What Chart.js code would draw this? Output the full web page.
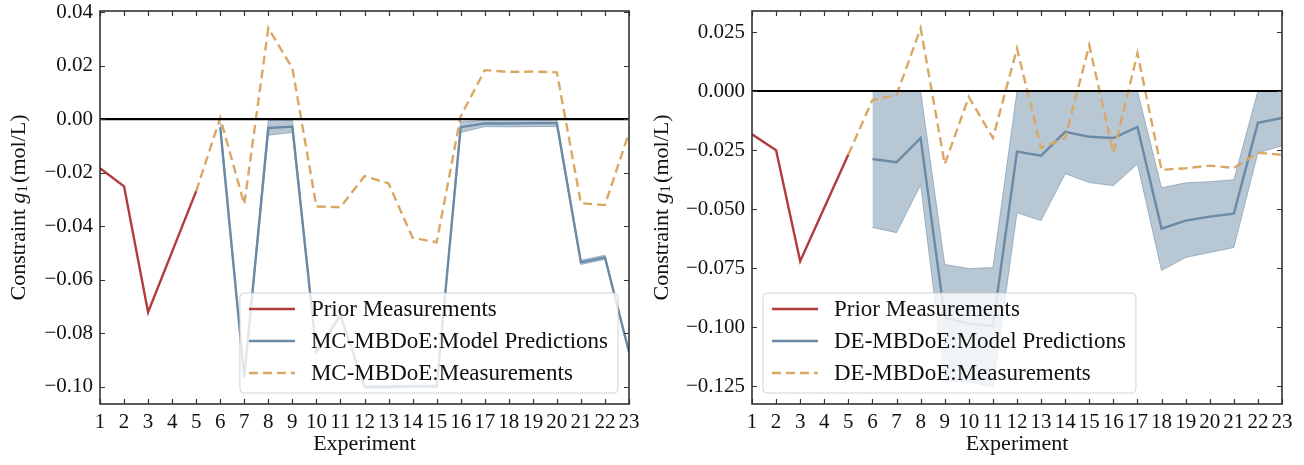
<!DOCTYPE html>
<html>
<head>
<meta charset="utf-8">
<title>Constraint g1: MC-MBDoE vs DE-MBDoE</title>
<script src="https://cdn.jsdelivr.net/npm/chart.js@4"></script>
<style>
  body { margin: 0; background: #fff; }
  .wrap { display: flex; width: 1304px; height: 465px; }
  canvas { display: block; }
</style>
</head>
<body>
<div class="wrap">
  <canvas id="mcChart" width="652" height="465"></canvas>
  <canvas id="deChart" width="652" height="465"></canvas>
</div>
<script>
// --- Data ---
const expTicks = [1, 2, 3, 4, 5, 6, 7, 8, 9, 10, 11, 12, 13, 14, 15, 16, 17, 18, 19, 20, 21, 22, 23];
const priorExp = [1, 2, 3, 4, 5];
const priorG1 = [-0.0183, -0.0251, -0.0721, -0.0495, -0.0269];
const measExp = [5, 6, 7, 8, 9, 10, 11, 12, 13, 14, 15, 16, 17, 18, 19, 20, 21, 22, 23];
const designExp = [6, 7, 8, 9, 10, 11, 12, 13, 14, 15, 16, 17, 18, 19, 20, 21, 22, 23];
const zeroX = [1, 23];
const zeroY = [0, 0];

// MC-MBDoE (left)
const mcMeas = [-0.0269, 0.0005, -0.0318, 0.0340, 0.0190, -0.0326, -0.0329, -0.0213, -0.0240, -0.0443,
                -0.0460, 0.0010, 0.0183, 0.0176, 0.0178, 0.0175, -0.0314, -0.0321, -0.0050];
const mcModel = [-0.0030, -0.0964, -0.0033, -0.0028, -0.0870, -0.0733, -0.1000, -0.1000, -0.0998,
                 -0.0998, -0.0030, -0.0016, -0.0016, -0.0015, -0.0015, -0.0535, -0.0516, -0.0870];
const mcUpper = [-0.0010, -0.0955, -0.0004, -0.0004, -0.0862, -0.0725, -0.0995, -0.0995, -0.0993,
                 -0.0993, -0.0010, -0.0004, -0.0003, -0.0003, -0.0003, -0.0527, -0.0508, -0.0862];
const mcLower = [-0.0050, -0.0973, -0.0060, -0.0050, -0.0878, -0.0741, -0.1005, -0.1005, -0.1003,
                 -0.1003, -0.0050, -0.0028, -0.0029, -0.0028, -0.0028, -0.0543, -0.0524, -0.0878];
const mcYTicks = [-0.10, -0.08, -0.06, -0.04, -0.02, 0.00, 0.02, 0.04];

// DE-MBDoE (right)
const deMeas = [-0.0269, -0.0038, -0.0017, 0.0266, -0.0310, -0.0025, -0.0199, 0.0180, -0.0241, -0.0199,
                0.0194, -0.0262, 0.0160, -0.0334, -0.0327, -0.0316, -0.0326, -0.0262, -0.0270];
const deModel = [-0.0288, -0.0302, -0.0199, -0.0960, -0.0985, -0.0995, -0.0257, -0.0274, -0.0173,
                 -0.0194, -0.0199, -0.0152, -0.0583, -0.0549, -0.0532, -0.0520, -0.0135, -0.0114];
const deUpper = [0, 0, 0, -0.0735, -0.0752, -0.0748, 0, 0, 0, 0, 0, 0, -0.0410, -0.0389, -0.0384, -0.0376, 0, 0];
const deLower = [-0.0578, -0.0600, -0.0397, -0.1230, -0.1233, -0.1252, -0.0516, -0.0549, -0.0350,
                 -0.0388, -0.0401, -0.0309, -0.0760, -0.0705, -0.0684, -0.0663, -0.0262, -0.0232];
const deYTicks = [-0.125, -0.100, -0.075, -0.050, -0.025, 0.000, 0.025];

// --- Styles ---
const serif = '"Liberation Serif", "Times New Roman", serif';
const red = '#b23b3b';
const blue = '#6a8aa5';
const orange = '#daa865';
const bandFill = 'rgba(106,138,165,0.48)';
const bandEdge = 'rgba(106,138,165,0.55)';
Chart.defaults.color = '#111';

const pts = (xs, ys) => xs.map((x, i) => ({ x: x, y: ys[i] }));
const fmt = (v, dec) => (Math.abs(v) < 1e-9 ? 0 : v) < 0 ? '\u2212' + Math.abs(v).toFixed(dec) : Math.abs(v).toFixed(dec);

// spines + inward ticks on all four sides
const framePlugin = {
  id: 'frame',
  afterDatasetsDraw(chart) {
    const ctx = chart.ctx, a = chart.chartArea;
    const xs = chart.scales.x, ys = chart.scales.y;
    ctx.save();
    ctx.strokeStyle = '#333';
    ctx.lineWidth = 1.2;
    ctx.beginPath();
    xs.ticks.forEach(t => {
      const px = Math.round(xs.getPixelForValue(t.value)) + 0.5;
      ctx.moveTo(px, a.bottom); ctx.lineTo(px, a.bottom - 5);
      ctx.moveTo(px, a.top); ctx.lineTo(px, a.top + 5);
    });
    ys.ticks.forEach(t => {
      const py = Math.round(ys.getPixelForValue(t.value)) + 0.5;
      ctx.moveTo(a.left, py); ctx.lineTo(a.left + 5, py);
      ctx.moveTo(a.right, py); ctx.lineTo(a.right - 5, py);
    });
    ctx.stroke();
    ctx.lineWidth = 1.6;
    ctx.strokeRect(a.left, a.top, a.right - a.left, a.bottom - a.top);
    ctx.restore();
  }
};

// legend box inside the plot, like matplotlib's framed legend
const boxLegend = {
  id: 'boxLegend',
  afterDraw(chart, args, o) {
    const ctx = chart.ctx, a = chart.chartArea;
    const items = chart.data.datasets.filter(d => d.inLegend);
    ctx.save();
    ctx.font = o.size + 'px ' + serif;
    const tw = Math.max(...items.map(d => ctx.measureText(d.label).width));
    const w = 9 + 46 + 16 + tw + 10, h = 100;
    const x = o.corner === 'right' ? a.right - 11 - w : a.left + 11;
    const y = a.bottom - 11 - h;
    ctx.beginPath();
    ctx.roundRect(x, y, w, h, 4);
    ctx.fillStyle = 'rgba(255,255,255,0.8)';
    ctx.fill();
    ctx.strokeStyle = 'rgba(200,200,200,0.8)';
    ctx.lineWidth = 1;
    ctx.stroke();
    items.forEach((d, i) => {
      const cy = y + 16 + i * 32;
      ctx.beginPath();
      ctx.setLineDash(d.borderDash || []);
      ctx.strokeStyle = d.borderColor;
      ctx.lineWidth = d.borderWidth;
      ctx.moveTo(x + 9, cy);
      ctx.lineTo(x + 55, cy);
      ctx.stroke();
      ctx.setLineDash([]);
      ctx.fillStyle = '#111';
      ctx.textBaseline = 'middle';
      ctx.fillText(d.label, x + 71, cy + 1);
    });
    ctx.restore();
  }
};

// y-axis title with italic g and subscript 1
const yTitle = {
  id: 'yTitle',
  afterDraw(chart, args, o) {
    const ctx = chart.ctx, a = chart.chartArea;
    const parts = [
      { t: 'Constraint ', f: '22px ' + serif, dy: 0 },
      { t: 'g', f: 'italic 22px ' + serif, dy: 0 },
      { t: '1', f: '15px ' + serif, dy: 4 },
      { t: '(mol/L)', f: '22px ' + serif, dy: 0 }
    ];
    ctx.save();
    let total = 0;
    parts.forEach(p => { ctx.font = p.f; p.w = ctx.measureText(p.t).width; total += p.w; });
    total += 2;
    ctx.translate(o.x, (a.top + a.bottom) / 2);
    ctx.rotate(-Math.PI / 2);
    ctx.fillStyle = '#111';
    ctx.textBaseline = 'middle';
    let cx = -total / 2;
    parts.forEach((p, i) => {
      ctx.font = p.f;
      ctx.fillText(p.t, cx, p.dy);
      cx += p.w + (i === 2 ? 2 : 0);
    });
    ctx.restore();
  }
};

function buildChart(id, c) {
  return new Chart(document.getElementById(id), {
    type: 'line',
    data: {
      datasets: [
        { label: 'band lower', data: pts(designExp, c.lower), borderColor: bandEdge, borderWidth: 1,
          pointRadius: 0, fill: false, order: 9 },
        { label: 'band upper', data: pts(designExp, c.upper), borderColor: bandEdge, borderWidth: 1,
          backgroundColor: bandFill, pointRadius: 0, fill: '-1', order: 8 },
        { label: 'zero', data: pts(zeroX, zeroY), borderColor: '#000', borderWidth: 2.2,
          pointRadius: 0, order: 1 },
        { label: 'Prior Measurements', data: pts(priorExp, priorG1), borderColor: red, borderWidth: 2.4,
          pointRadius: 0, order: 3, inLegend: true },
        { label: c.tag + ':Model Predictions', data: pts(designExp, c.model), borderColor: blue,
          borderWidth: 2.4, pointRadius: 0, order: 4, inLegend: true },
        { label: c.tag + ':Measurements', data: pts(measExp, c.meas), borderColor: orange,
          borderWidth: 2.4, borderDash: [9, 5], pointRadius: 0, order: 2, inLegend: true }
      ]
    },
    options: {
      responsive: false,
      animation: false,
      devicePixelRatio: 1,
      elements: { line: { tension: 0 } },
      layout: { padding: { left: 0, top: 11, right: c.padRight, bottom: 0 } },
      plugins: {
        legend: { display: false },
        tooltip: { enabled: false },
        boxLegend: { corner: c.corner, size: 23 },
        yTitle: { x: c.titleX }
      },
      scales: {
        x: {
          type: 'linear', min: 1, max: 23,
          afterFit: s => { s.height = 61; s.paddingLeft = 0; s.paddingRight = 0; },
          afterBuildTicks: s => { s.ticks = expTicks.map(v => ({ value: v })); },
          grid: { display: false, drawTicks: false },
          border: { display: false },
          ticks: { autoSkip: false, maxRotation: 0, padding: 6, font: { family: serif, size: 21 },
                   callback: v => String(v) },
          title: { display: true, text: 'Experiment', font: { family: serif, size: 22 },
                   padding: { top: 0, bottom: 8 } }
        },
        y: {
          type: 'linear', min: c.yMin, max: c.yMax,
          afterFit: s => { s.width = 100; s.paddingTop = 0; s.paddingBottom = 0; },
          afterBuildTicks: s => { s.ticks = c.yTicks.map(v => ({ value: v })); },
          grid: { display: false, drawTicks: false },
          border: { display: false },
          ticks: { padding: 7, font: { family: serif, size: 21 }, callback: v => fmt(v, c.dec) }
        }
      }
    },
    plugins: [framePlugin, boxLegend, yTitle]
  });
}

buildChart('mcChart', {
  tag: 'MC-MBDoE', meas: mcMeas, model: mcModel, upper: mcUpper, lower: mcLower,
  yMin: -0.1064, yMax: 0.0404, yTicks: mcYTicks, dec: 2, padRight: 23, corner: 'right', titleX: 19
});
buildChart('deChart', {
  tag: 'DE-MBDoE', meas: deMeas, model: deModel, upper: deUpper, lower: deLower,
  yMin: -0.1326, yMax: 0.0339, yTicks: deYTicks, dec: 3, padRight: 22, corner: 'left', titleX: 10
});
</script>
</body>
</html>
